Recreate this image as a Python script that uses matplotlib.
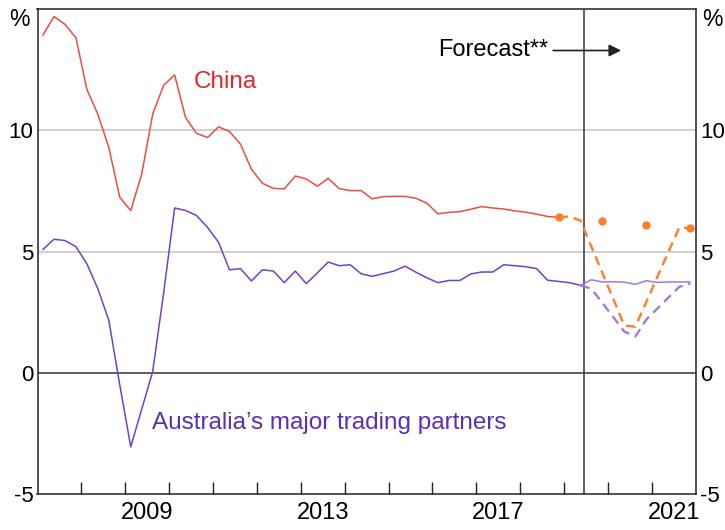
import numpy as np
import matplotlib
matplotlib.use("Agg")
import matplotlib.pyplot as plt

plt.rcParams['font.family'] = ['Liberation Sans', 'DejaVu Sans']
plt.rcParams['axes.unicode_minus'] = False

# year-ended GDP growth, quarterly from 2007 Q1 (plotted mid-quarter)
start = 2007.125
china = [13.94, 14.7, 14.38, 13.83, 11.7, 10.67, 9.3, 7.24,
         6.7, 8.2, 10.67, 11.87, 12.29, 10.53, 9.88, 9.71,
         10.15, 9.96, 9.44, 8.4, 7.82, 7.61, 7.59, 8.12,
         8.0, 7.7, 8.02, 7.6, 7.52, 7.52, 7.18, 7.27,
         7.28, 7.28, 7.2, 7.0, 6.56, 6.62, 6.65, 6.75,
         6.86, 6.8, 6.76, 6.68, 6.63, 6.55, 6.45, 6.42]
partners = [5.09, 5.51, 5.46, 5.21, 4.5, 3.47, 2.17, -0.5,
            -3.05, -1.5, 0.05, 3.3, 6.8, 6.7, 6.49, 6.0,
            5.39, 4.25, 4.3, 3.79, 4.25, 4.2, 3.72, 4.2,
            3.68, 4.12, 4.57, 4.42, 4.46, 4.09, 3.98, 4.09,
            4.2, 4.4, 4.15, 3.92, 3.72, 3.81, 3.81, 4.08,
            4.16, 4.16, 4.46, 4.42, 4.38, 4.3, 3.82, 3.77,
            3.72, 3.61]

# forecasts
china_fc_x = [2018.875, 2019.125, 2019.375, 2020.375, 2020.625, 2021.625, 2021.875]
china_fc = [6.42, 6.45, 6.28, 1.95, 1.9, 6.0, 5.97]
china_dots_x = [2018.875, 2019.875, 2020.875, 2021.875]
china_dots = [6.42, 6.25, 6.08, 5.97]
partners_fc_x = [2019.375, 2019.625, 2020.375, 2020.625, 2020.875,
                 2021.125, 2021.375, 2021.625, 2021.875]
partners_fc = [3.61, 3.47, 1.7, 1.5, 2.2, 2.65, 3.1, 3.55, 3.68]
partners_old_x = [2019.375, 2019.625, 2019.875, 2020.125, 2020.375, 2020.625,
                  2020.875, 2021.125, 2021.375, 2021.625, 2021.875]
partners_old = [3.61, 3.84, 3.75, 3.76, 3.74, 3.65, 3.8, 3.73, 3.75, 3.75, 3.75]

forecast_line = 2019.45
year_labels = [2009, 2013, 2017, 2021]

x_china = start + 0.25 * np.arange(len(china))
x_partners = start + 0.25 * np.arange(len(partners))

red = '#EE4B43'
purple = '#6B45C6'
light_purple = '#A07BDB'
orange = '#FF7C2A'

fig = plt.figure(figsize=(7.25, 5.3), dpi=100)
ax = fig.add_axes([37.5/725, (530-494)/530, (695.7-37.5)/725, (494-9.3)/530])

ax.axhline(5, color='#C4C4C4', lw=1.1, zorder=1)
ax.axhline(10, color='#C4C4C4', lw=1.1, zorder=1)
ax.axhline(0, color='#333333', lw=1.1, zorder=1)
ax.axvline(forecast_line, color='#333333', lw=1.1, zorder=1)

ax.plot(x_china, china, color=red, lw=1.1, zorder=3)
ax.plot(x_partners, partners, color=purple, lw=1.1, zorder=3)
ax.plot(partners_old_x, partners_old, color=light_purple, lw=1.1, zorder=3)
ax.plot(china_fc_x, china_fc, color=orange, lw=1.7, ls=(0, (4, 2.5)), zorder=4)
ax.plot(partners_fc_x, partners_fc, color=light_purple, lw=1.7, ls=(0, (4, 2.5)), zorder=4)
ax.plot(china_dots_x, china_dots, 'o', color=orange, ms=6, mec='none', zorder=5)

ax.set_xlim(2007, 2022)
ax.set_ylim(-5, 15)

ax.set_xticks(range(2008, 2022))
ax.set_xticklabels([])
ax.set_xticks([y + 0.5 for y in year_labels], minor=True)
ax.set_xticklabels([str(y) for y in year_labels], minor=True)
ax.tick_params(axis='x', which='major', direction='in', length=9, width=1, color='#222222')
ax.tick_params(axis='x', which='minor', length=0, labelsize=17, pad=6)

ax.set_yticks([-5, 0, 5, 10])
ax.tick_params(axis='y', which='both', length=0, labelsize=16, pad=3,
               left=True, right=True, labelleft=True, labelright=True)

for s in ax.spines.values():
    s.set_color('#222222')
    s.set_linewidth(1.1)

fig.text(19/725, 1 - 19/530, '%', fontsize=16.5, ha='center', va='center')
fig.text(712/725, 1 - 19/530, '%', fontsize=16.5, ha='center', va='center')

ax.text(2010.55, 12.0, 'China', color='#E2262C', fontsize=17.5, va='center')
ax.text(2009.6, -2.05, 'Australia\u2019s major trading partners', color='#5A2FB5',
        fontsize=17.5, va='center')
ax.text(2018.64, 13.3, 'Forecast**', fontsize=17, ha='right', va='center')
ax.annotate('', xy=(2020.3, 13.3), xytext=(2018.75, 13.3),
            arrowprops=dict(arrowstyle='-|>', color='#222222', lw=1.2,
                            mutation_scale=18, shrinkA=0, shrinkB=0))

fig.savefig('out.png', dpi=100)
